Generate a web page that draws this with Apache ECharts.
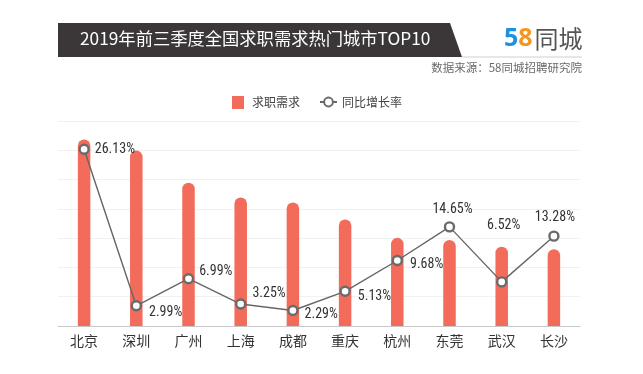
<!DOCTYPE html>
<html>
<head>
<meta charset="utf-8">
<script src="https://cdn.jsdelivr.net/npm/echarts@6/dist/echarts.min.js"></script>
<style>
html,body{margin:0;padding:0;background:#fff;}
#chart{width:643px;height:374px;}
</style>
</head>
<body>
<div id="chart"></div>
<script>
// ---- data ----
const cities = ['北京','深圳','广州','上海','成都','重庆','杭州','东莞','武汉','长沙'];
const demandIndex = [6.37, 5.99, 4.89, 4.39, 4.22, 3.64, 3.01, 2.94, 2.71, 2.62];
const yoyGrowth = [26.13, 2.99, 6.99, 3.25, 2.29, 5.13, 9.68, 14.65, 6.52, 13.28];
const seriesNames = ['求职需求', '同比增长率'];
const titleText = '2019年前三季度全国求职需求热门城市TOP10';
const sourceText = '数据来源：58同城招聘研究院';

// label placement styles (not data)
const labelPlacement = [
  {position:'right', offset:[0,0]},
  {position:'right', offset:[2,7]},
  {position:'right', offset:[0,-7]},
  {position:'right', offset:[1,-11]},
  {position:'right', offset:[1,4]},
  {position:'right', offset:[2,5]},
  {position:'right', offset:[2,4]},
  {position:'top', offset:[3,0]},
  {position:'top', offset:[2,-39]},
  {position:'top', offset:[1,-1]}
];

const labelFont = "'Liberation Sans Narrow','Roboto Condensed','DejaVu Sans Condensed',sans-serif";
const cjk = "'Noto Sans CJK SC','Noto Sans',sans-serif";

const chart = echarts.init(document.getElementById('chart'), null, {renderer:'canvas'});

const lineData = yoyGrowth.map((v, i) => ({
  value: v,
  label: Object.assign({show:true}, labelPlacement[i])
}));

chart.setOption({
  backgroundColor: '#fff',
  animation: false,
  textStyle: {fontFamily: cjk},
  graphic: [
    {type:'polygon', shape:{points:[[58,23],[450,23],[462,57],[58,57]]}, style:{fill:'#3b3637'}},
    {type:'line', shape:{x1:462,y1:57,x2:582,y2:57}, style:{stroke:'#cfcfcf', lineWidth:1}},
    {type:'text', left:80, top:30, style:{text:titleText, fill:'#fff', font:"17.3px 'Noto Sans CJK SC'"}},
    {type:'text', left:504, top:26, style:{
      text:'{a|5}{b|8}{c|同城}',
      rich:{
        a:{fill:'#1f8fe0', font:"bold 25px 'Noto Sans', sans-serif"},
        b:{fill:'#f7941d', font:"bold 25px 'Noto Sans', sans-serif"},
        c:{fill:'#555', font:"24px 'Noto Sans CJK SC'", padding:[0,0,0,2]}
      }}},
    {type:'text', right:61, top:62, style:{text:sourceText, fill:'#6a6a6a', font:"11.5px 'Noto Sans CJK SC'"}}
  ],
  legend: [
    {data:[{name:seriesNames[0], icon:'rect'}], left:227, top:91, itemWidth:12, itemHeight:13, itemGap:10,
      textStyle:{fontSize:12, color:'#444', fontFamily:cjk, padding:[0,0,0,3]}},
    {data:[seriesNames[1]], left:314, top:91, itemWidth:17, itemHeight:11, itemGap:10,
      textStyle:{fontSize:12, color:'#444', fontFamily:cjk}}
  ],
  grid: {left:58, right:63, top:121, bottom:48, containLabel:false},
  xAxis: {
    type:'category', data:cities,
    axisLine:{lineStyle:{color:'#c8c8c8', width:1}},
    axisTick:{show:false},
    axisLabel:{color:'#333', fontSize:14, margin:8, fontFamily:cjk}
  },
  yAxis: [
    {type:'value', min:0, max:7, interval:1,
      axisLine:{show:false}, axisTick:{show:false}, axisLabel:{show:false},
      splitLine:{lineStyle:{color:'#f1f1f1', width:1}}},
    {type:'value', min:0, max:30.3,
      axisLine:{show:false}, axisTick:{show:false}, axisLabel:{show:false}, splitLine:{show:false}}
  ],
  series: [
    {name:seriesNames[0], type:'bar', data:demandIndex, barWidth:12.5,
      itemStyle:{color:'#f26b5b', borderRadius:[6.25,6.25,0,0]}},
    {name:seriesNames[1], type:'line', yAxisIndex:1, data:lineData,
      symbol:'circle', symbolSize:9,
      lineStyle:{color:'#666', width:1.4},
      itemStyle:{color:'#fff', borderColor:'#6a6a6a', borderWidth:2.4},
      label:{show:true, color:'#333', fontSize:14, fontFamily:labelFont,
        formatter: p => p.value.toFixed(2) + '%'}}
  ]
});
</script>
</body>
</html>
